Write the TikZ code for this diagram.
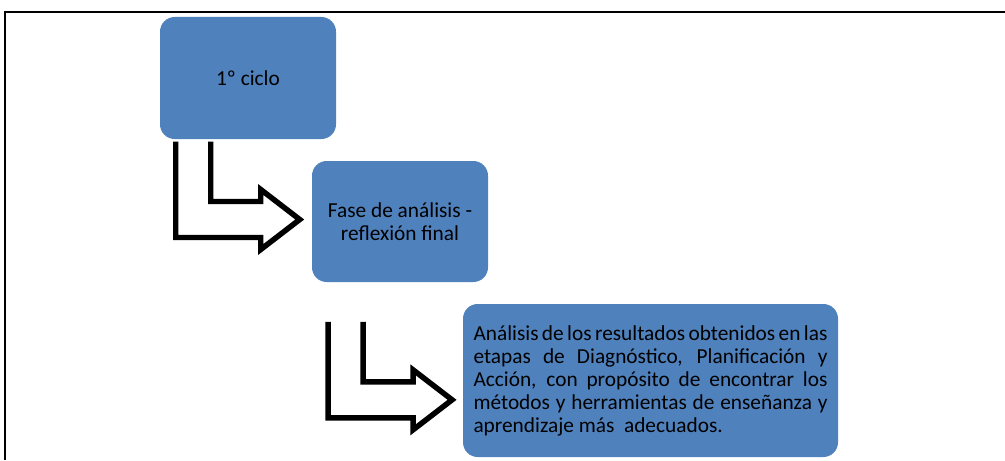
\documentclass[tikz,border=0pt]{standalone}
\usepackage{fontspec}
\setmainfont{Carlito}
\definecolor{boxblue}{HTML}{4F81BD}
\tikzset{
  stage/.style={rectangle, rounded corners=11pt, fill=boxblue, text=black, inner sep=0pt,
    font=\fontsize{16}{17.25}\selectfont},
  flow/.style={draw=black, line width=4.1pt, line join=miter},
  bentarrow/.pic={
    \draw[flow] (-124,-78) -- (-124,18) -- (-39,18) -- (-39,30) -- (0,0)
      -- (-39,-30) -- (-39,-18) -- (-89,-18) -- (-89,-78);
  }
}
\begin{document}
\begin{tikzpicture}[x=0.75pt,y=-0.75pt]
      \useasboundingbox (0,0) rectangle (1005,460);
      \draw[line width=1.6pt] (5,460) -- (5,12) -- (1005,12);
      \draw
        (248,78) node[stage, minimum width=132pt, minimum height=91.5pt] (c1) {1º ciclo}
        (400,221.5) node[stage, minimum width=132pt, minimum height=90.75pt, align=center] (c2)
          {Fase de análisis -\\reflexión final}
        (650.5,380.5) node[stage, minimum width=281.25pt, minimum height=114.75pt,
          text width=265.5pt, align=justify] (c3)
          {\hyphenpenalty=10000 Análisis de los resultados obtenidos en las\linebreak
           etapas de Diagnóstico, Planificación y\linebreak
           Acción, con propósito de encontrar los\linebreak
           métodos y herramientas de enseñanza y\linebreak
           aprendizaje más~ adecuados.};
      \begin{scope}
        \coordinate (t1) at ([xshift=-9, yshift=1.5]c2.west);
        \coordinate (t2) at ([xshift=-8, yshift=-14.5]c3.west);
        \pic at (t1) {bentarrow};
        \pic at (t2) {bentarrow};
      \end{scope}
    \end{tikzpicture}
\end{document}
